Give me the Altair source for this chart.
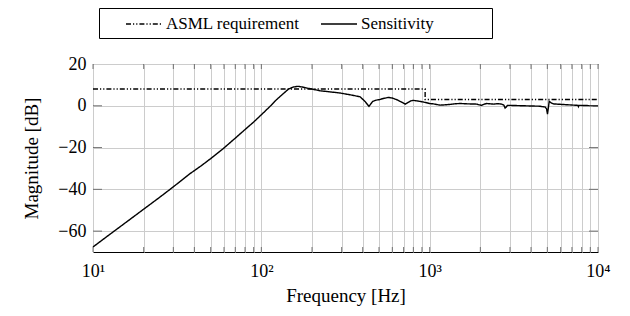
import altair as alt
import pandas as pd

# ---------------- data ----------------
series_names = ["ASML requirement", "Sensitivity"]

req_freq = [10, 940, 940, 10000]
req_mag = [8, 8, 3, 3]

sens_freq = [10, 12, 15, 20, 25, 30, 37.7, 43.8, 50, 59.4, 70, 81.8, 90, 100,
             112, 123, 135, 145, 155, 165, 175, 186, 200, 223, 260, 294, 340,
             386, 413, 428, 436, 446, 459, 480, 500, 530, 569, 600, 638, 680,
             715, 740, 770, 800, 860, 918, 1000, 1052, 1153, 1262, 1400, 1514,
             1700, 1903, 1980, 2040, 2110, 2185, 2300, 2393, 2550, 2680, 2760,
             2806, 2850, 2897, 3000, 3606, 4500, 4855, 4950, 5010, 5070, 5130,
             5250, 5434, 6530, 7600, 7650, 7700, 9840, 10000]
sens_mag = [-67.6, -62.8, -57.0, -49.5, -43.7, -38.8, -32.5, -28.8, -25.3,
            -20.5, -15.5, -10.7, -7.8, -4.3, -0.5, 2.9, 5.8, 8.0, 9.0, 9.3,
            9.0, 8.5, 8.0, 7.2, 6.6, 6.1, 5.2, 4.3, 2.1, 0.5, -0.3, 0.8, 2.1,
            2.7, 2.9, 3.5, 4.0, 3.7, 2.9, 1.8, 0.8, 1.5, 2.3, 2.6, 2.2, 1.8,
            1.1, 0.9, 0.3, 0.5, 0.9, 1.1, 0.9, 0.8, 0.4, 0.2, 0.8, 1.1, 0.9,
            0.8, 1.0, 0.8, 0.3, -1.1, -0.6, 0.2, 0.2, 0.0, -0.2, -0.6, -1.5,
            -4.0, -1.0, 2.1, 1.5, 0.9, 0.5, 0.2, -0.4, 0.2, 0.0, 0.0]

x_decades = [10, 100, 1000, 10000]
x_decade_labels = ["10\u00b9", "10\u00b2", "10\u00b3", "10\u2074"]
x_grid = [m * 10 ** e for e in (1, 2, 3) for m in range(1, 10)] + [10000]
y_values = [-60, -40, -20, 0, 20]

# ---------------- layout / style ----------------
W, H = 505, 188
X_DOM = [10, 10000]
Y_DOM = [-70, 20]
SERIF = "Liberation Serif"

rows = []
for i, (f, m) in enumerate(zip(req_freq, req_mag)):
    rows.append({"series": series_names[0], "f": f, "mag": m, "ord": i})
for i, (f, m) in enumerate(zip(sens_freq, sens_mag)):
    rows.append({"series": series_names[1], "f": f, "mag": m, "ord": i})
df = pd.DataFrame(rows)

# inward tick segments (lengths in px converted to data units)
dB_per_px = (Y_DOM[1] - Y_DOM[0]) / H
dec_per_px = 3.0 / W
XT_LEN = 5
YT_LEN = 9
xt_rows = []
for f in x_grid:
    xt_rows.append({"f": f, "mag": Y_DOM[0], "mag2": Y_DOM[0] + XT_LEN * dB_per_px})
    xt_rows.append({"f": f, "mag": Y_DOM[1], "mag2": Y_DOM[1] - XT_LEN * dB_per_px})
xt = pd.DataFrame(xt_rows)
yt_rows = []
fac = 10 ** (YT_LEN * dec_per_px)
for v in y_values[:-1]:
    yt_rows.append({"mag": v, "f": X_DOM[0], "f2": X_DOM[0] * fac})
    yt_rows.append({"mag": v, "f": X_DOM[1], "f2": X_DOM[1] / fac})
yt = pd.DataFrame(yt_rows)

xscale = alt.Scale(type="log", domain=X_DOM, nice=False)
yscale = alt.Scale(domain=Y_DOM, nice=False, zero=False)

xlabel_expr = " : ".join(
    f"datum.value == {v} ? '{l}'" for v, l in zip(x_decades, x_decade_labels)
) + " : ''"

XTITLE = "Frequency [Hz]"
YTITLE = "Magnitude [dB]"

lines = alt.Chart(df).mark_line(color="black", strokeWidth=1.4).encode(
    x=alt.X("f:Q", scale=xscale, title=XTITLE,
            axis=alt.Axis(values=x_grid, labelExpr=xlabel_expr,
                          labelPadding=10, titlePadding=6)),
    y=alt.Y("mag:Q", scale=yscale, title=YTITLE,
            axis=alt.Axis(values=y_values,
                          labelExpr="replace(datum.label, '-', '\u2212')",
                          labelPadding=7, titlePadding=16)),
    strokeDash=alt.StrokeDash(
        "series:N",
        scale=alt.Scale(domain=series_names, range=[[5, 2, 1.2, 2, 1.2, 2], [1, 0]]),
        legend=alt.Legend(
            title="M", titleOrient="right", titleFont=SERIF, titleFontSize=17,
            titleOpacity=0, titlePadding=35,
            orient="none", legendX=6, legendY=-56,
            direction="horizontal", symbolType="M-2,0H2", symbolSize=324,
            symbolStrokeWidth=1.4, symbolStrokeColor="black", symbolOffset=29,
            labelOffset=12, labelFont=SERIF, labelFontSize=17, labelColor="black",
            labelLimit=300, columnPadding=0, padding=6,
            strokeColor="black", fillColor="white",
        ),
    ),
    order="ord:Q",
)

xticks = alt.Chart(xt).mark_rule(color="#555555", strokeWidth=0.8).encode(
    x=alt.X("f:Q", scale=xscale, title=XTITLE),
    y=alt.Y("mag:Q", scale=yscale, title=YTITLE),
    y2="mag2:Q",
)
yticks = alt.Chart(yt).mark_rule(color="#555555", strokeWidth=0.8).encode(
    y=alt.Y("mag:Q", scale=yscale, title=YTITLE),
    x=alt.X("f:Q", scale=xscale, title=XTITLE),
    x2="f2:Q",
)

chart = alt.layer(lines, xticks, yticks).properties(
    width=W, height=H,
    autosize=alt.AutoSizeParams(type="none"),
    padding={"left": 85, "top": 56, "right": 20, "bottom": 62},
).configure(
    background="white"
).configure_view(
    stroke="black", strokeWidth=1
).configure_axis(
    grid=True, gridColor="#cccccc", gridWidth=1, ticks=False, domain=False,
    labelFont=SERIF, labelFontSize=18, labelColor="black", labelFlush=False,
    labelOverlap=False, titleFont=SERIF, titleFontSize=19,
    titleFontWeight="normal", titleColor="black",
)

chart.save("out.html", embed_options={"renderer": "svg", "actions": False})
